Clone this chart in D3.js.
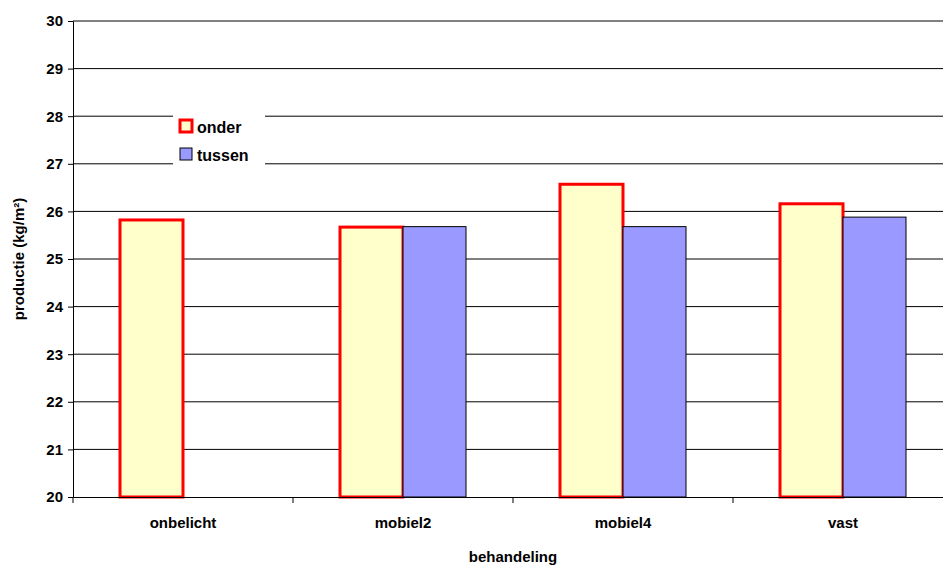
<!DOCTYPE html>
<html><head><meta charset="utf-8">
<script src="https://cdn.jsdelivr.net/npm/d3@7"></script>
<style>body{margin:0;background:#fff}text{font-family:"Liberation Sans",Arial,sans-serif;font-weight:bold}</style>
</head><body><svg id="c" width="943" height="567"></svg>
<script>
const categories=["onbelicht","mobiel2","mobiel4","vast"];
const onder=[25.82,25.67,26.57,26.16];
const tussen=[null,25.68,25.68,25.88];
const yTicks=[20,21,22,23,24,25,26,27,28,29,30];
const svg=d3.select("#c");
const L=73,R=953,T=21,B=497;
const x=d3.scaleBand().domain(categories).range([L,R]);
const y=d3.scaleLinear().domain([20,30]).range([B,T]);
const bw=63;
svg.append("g").selectAll("line").data(yTicks.slice(1)).join("line")
 .attr("x1",L).attr("x2",943).attr("y1",d=>y(d)).attr("y2",d=>y(d)).attr("stroke","#000").attr("stroke-width",1);
const ya=svg.append("g").attr("transform",`translate(${L},0)`).call(d3.axisLeft(y).tickValues(yTicks).tickSize(5).tickPadding(5));
ya.select(".domain").attr("stroke","#000");
ya.selectAll("text").attr("font-size",15).attr("font-family","Liberation Sans,Arial").attr("font-weight","bold");
categories.forEach((c,i)=>{
 const cx=x(c)+x.bandwidth()/2;
 svg.append("rect").attr("x",cx-bw).attr("y",y(onder[i])).attr("width",bw).attr("height",B-y(onder[i]))
  .attr("fill","#ffffcc").attr("stroke","#ff0000").attr("stroke-width",3);
 if(tussen[i]!=null) svg.append("rect").attr("x",cx).attr("y",y(tussen[i])).attr("width",bw).attr("height",B-y(tussen[i]))
  .attr("fill","#9999ff").attr("stroke","#000").attr("stroke-width",1);
});
const xa=svg.append("g").attr("transform",`translate(0,${B})`).call(d3.axisBottom(x).tickSize(0).tickPadding(20));
xa.select(".domain").attr("stroke","#000");
xa.selectAll("text").attr("font-size",15).attr("font-family","Liberation Sans,Arial").attr("font-weight","bold");
svg.append("g").selectAll("line").data(d3.range(5)).join("line")
 .attr("x1",d=>L+d*x.step()).attr("x2",d=>L+d*x.step()).attr("y1",B).attr("y2",B+6).attr("stroke","#000");
svg.append("text").attr("x",513).attr("y",562).attr("text-anchor","middle").attr("font-size",15).text("behandeling");
svg.append("text").attr("transform","translate(24,259) rotate(-90)").attr("text-anchor","middle").attr("font-size",15).text("productie (kg/m²)");
const lg=svg.append("g");
lg.append("rect").attr("x",173).attr("y",110).attr("width",92).attr("height",60).attr("fill","#fff");
lg.append("rect").attr("x",180).attr("y",120).attr("width",12).attr("height",12).attr("fill","#ffffcc").attr("stroke","#ff0000").attr("stroke-width",3);
lg.append("rect").attr("x",180).attr("y",148).attr("width",12).attr("height",12).attr("fill","#9999ff").attr("stroke","#000");
lg.append("text").attr("x",197).attr("y",133).attr("font-size",16).text("onder");
lg.append("text").attr("x",197).attr("y",161).attr("font-size",16).text("tussen");
</script></body></html>
